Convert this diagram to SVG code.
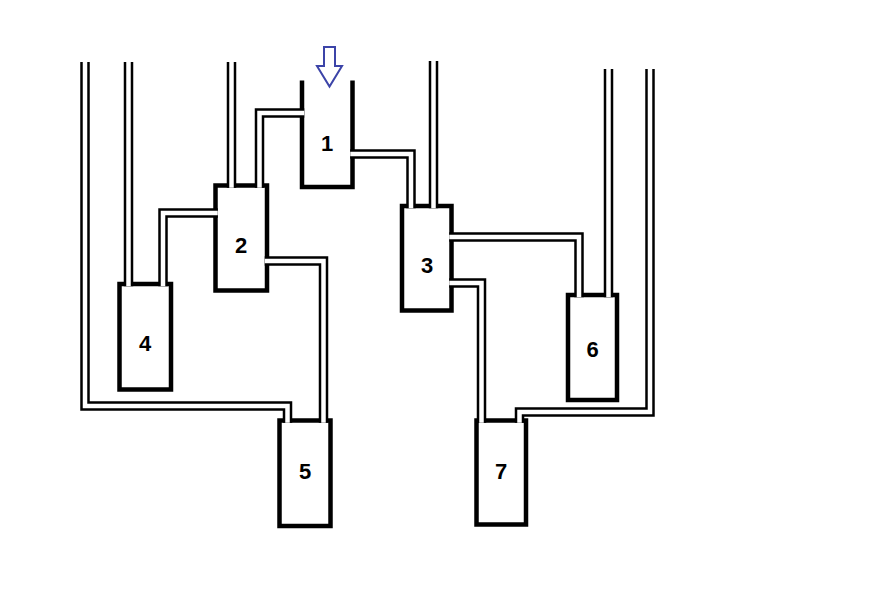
<svg xmlns="http://www.w3.org/2000/svg" xmlns:xlink="http://www.w3.org/1999/xlink" width="872" height="600" viewBox="0 0 872 600">
<style>
.vessel{fill:#fff;stroke:#000;stroke-width:4.5;stroke-linejoin:miter}
.open{fill:none;stroke:#000;stroke-width:4.5;stroke-linejoin:miter}
.lbl{font-family:"Liberation Sans",Arial,sans-serif;font-weight:bold;font-size:22px;text-anchor:middle;fill:#000}
.pipe-o{fill:none;stroke:#000;stroke-width:9.5;stroke-linejoin:miter;stroke-linecap:butt}
.pipe-i{fill:none;stroke:#fff;stroke-width:4.5;stroke-linejoin:miter;stroke-linecap:butt}
.arrow{fill:#fff;stroke:#3c44a8;stroke-width:2;stroke-linejoin:miter}
</style>
<defs>
<path id="p12" d="M304.25,113 H259.5 V187.75"/>
<path id="p13" d="M350.25,154 H411 V208.25"/>
<path id="p42" d="M217.75,213 H163 V286.25"/>
<path id="p25" d="M264.75,261 H323.5 V422.75"/>
<path id="p36" d="M449.25,237 H579 V297.25"/>
<path id="p37" d="M449.25,283 H481.5 V422.75"/>
<path id="pL5" d="M85,62 V406 H287.5 V422.75"/>
<path id="pL4" d="M128.5,62 V286.25"/>
<path id="pL2" d="M231.5,62 V187.75"/>
<path id="pL3" d="M433.5,61 V208.25"/>
<path id="pL6" d="M608.5,69 V297.25"/>
<path id="pR7" d="M650,69 V412 H519.5 V422.75"/>
</defs>
<rect width="872" height="600" fill="#fff"/>
<g id="node-1">
<path class="open" d="M302,80.5 V187 H352.5 V80.5"/>
<text class="lbl" x="327" y="151">1</text>
</g>
<g id="node-2">
<rect class="vessel" x="215.5" y="185.5" width="51.5" height="105"/>
<text class="lbl" x="241" y="253">2</text>
</g>
<g id="node-3">
<rect class="vessel" x="402" y="206" width="49.5" height="104.5"/>
<text class="lbl" x="427" y="273">3</text>
</g>
<g id="node-4">
<rect class="vessel" x="119.5" y="284" width="51.5" height="105.5"/>
<text class="lbl" x="145" y="351">4</text>
</g>
<g id="node-5">
<rect class="vessel" x="279.5" y="420.5" width="51" height="105.5"/>
<text class="lbl" x="305" y="479">5</text>
</g>
<g id="node-6">
<rect class="vessel" x="568" y="295" width="49" height="105"/>
<text class="lbl" x="592.5" y="357">6</text>
</g>
<g id="node-7">
<rect class="vessel" x="476.5" y="420.5" width="49.5" height="104"/>
<text class="lbl" x="501" y="479">7</text>
</g>
<g id="connectors">
<g class="pipe-o">
<use xlink:href="#p12"/><use xlink:href="#p13"/><use xlink:href="#p42"/><use xlink:href="#p25"/>
<use xlink:href="#p36"/><use xlink:href="#p37"/><use xlink:href="#pL5"/><use xlink:href="#pL4"/>
<use xlink:href="#pL2"/><use xlink:href="#pL3"/><use xlink:href="#pL6"/><use xlink:href="#pR7"/>
</g>
<g class="pipe-i">
<use xlink:href="#p12"/><use xlink:href="#p13"/><use xlink:href="#p42"/><use xlink:href="#p25"/>
<use xlink:href="#p36"/><use xlink:href="#p37"/><use xlink:href="#pL5"/><use xlink:href="#pL4"/>
<use xlink:href="#pL2"/><use xlink:href="#pL3"/><use xlink:href="#pL6"/><use xlink:href="#pR7"/>
</g>
</g>
<g id="inflow-arrow">
<polygon class="arrow" points="324,47 335,47 335,66 342,66 329.5,86.5 317,66 324,66"/>
</g>
</svg>
